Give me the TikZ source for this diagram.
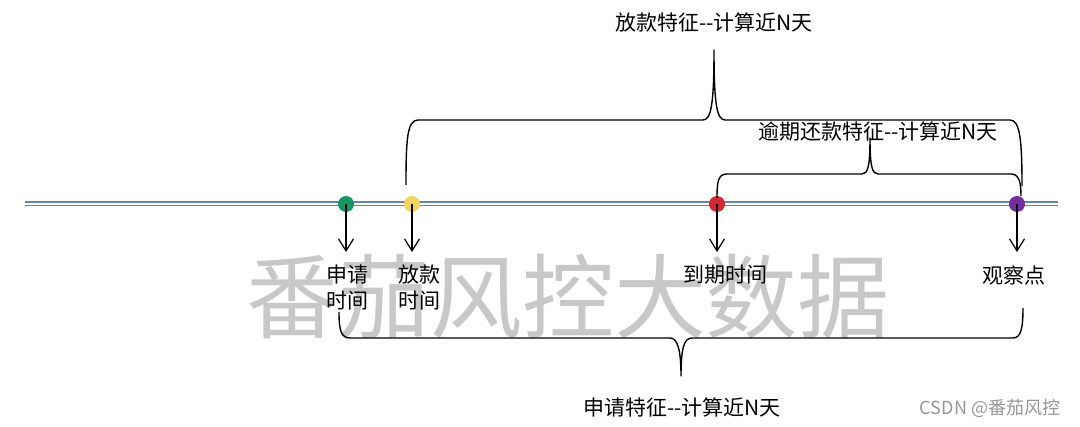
\documentclass[tikz,border=0pt]{standalone}
\usepackage{fontspec}
\newfontfamily\cjk{Noto Sans CJK SC}
\usetikzlibrary{arrows.meta}
\definecolor{axisc}{RGB}{100,135,160}
\definecolor{dgreen}{RGB}{24,150,100}
\definecolor{dyellow}{RGB}{245,212,90}
\definecolor{dred}{RGB}{210,40,48}
\definecolor{dpurple}{RGB}{118,45,158}
\definecolor{wm}{RGB}{200,200,200}
\tikzset{
  lbl/.style={font=\cjk\fontsize{21}{26}\selectfont, inner sep=0pt, align=center},
  dot/.style={circle, inner sep=0pt, minimum size=16pt, fill=#1},
  arr/.style={-{Straight Barb[length=12pt,width=15pt]}, line width=1.2pt},
  brace/.style={line width=1.4pt, line join=round}
}
\begin{document}
\begin{tikzpicture}[x=1pt,y=-1pt]
\useasboundingbox (0,0) rectangle (1080,427);
% watermark
\node[font=\cjk\fontsize{92}{92}\selectfont, text=wm, inner sep=0pt] (wmk) at (568,297) {番茄风控大数据};
% axis
\draw[axisc, line width=1.6pt, double=white, double distance=1.8pt] (25,204) coordinate (axl) -- (1058,204) coordinate (axr);
% dots
\node[dot=dgreen] (d1) at (346,204) {};
\node[dot=dyellow] (d2) at (412,204) {};
\node[dot=dred] (d3) at (717,204) {};
\node[dot=dpurple] (d4) at (1017,204) {};
% arrow ends
\coordinate (a1) at (346,252);
\coordinate (a2) at (412,252);
\coordinate (a3) at (717,252);
\coordinate (a4) at (1017,252);
\draw[arr] (d1.center) -- (a1);
\draw[arr] (d2.center) -- (a2);
\draw[arr] (d3.center) -- (a3);
\draw[arr] (d4.center) -- (a4);
% labels
\node[lbl] (l1) at (347,288) {申请\\时间};
\node[lbl] (l2) at (419,288) {放款\\时间};
\node[lbl] (l3) at (725,275) {到期时间};
\node[lbl] (l4) at (1014,275) {观察点};
% braces
\draw[brace] (406,185) .. controls (406,140) and (407,120) .. (418,120) -- (703,120) .. controls (711,120) and (714,105) .. (714,50) .. controls (714,105) and (717,120) .. (725,120) -- (1010,120) .. controls (1020,120) and (1022,140) .. (1022,186);
\draw[brace] (717,198) .. controls (717,182) and (718,174) .. (727,174) -- (862,174) .. controls (868,174) and (870,166) .. (870,138) .. controls (870,166) and (872,174) .. (878,174) -- (1011,174) .. controls (1019,174) and (1021,182) .. (1021,196);
\draw[brace] (339,312) .. controls (339,330) and (341,338) .. (350,338) -- (670,338) .. controls (677,338) and (681,348) .. (681,376) .. controls (681,348) and (684,338) .. (692,338) -- (1013,338) .. controls (1021,338) and (1023,328) .. (1023,308);
% brace labels
\node[lbl] (t1) at (714,22) {放款特征--计算近N天};
\node[lbl] (t2) at (878,132) {逾期还款特征--计算近N天};
\node[lbl] (t3) at (682,407) {申请特征--计算近N天};
% csdn
\node[font=\cjk\fontsize{18}{20}\selectfont, text={rgb,255:red,150;green,150;blue,150}, inner sep=0pt] (cs) at (990,408) {CSDN @番茄风控};
\end{tikzpicture}
\end{document}
